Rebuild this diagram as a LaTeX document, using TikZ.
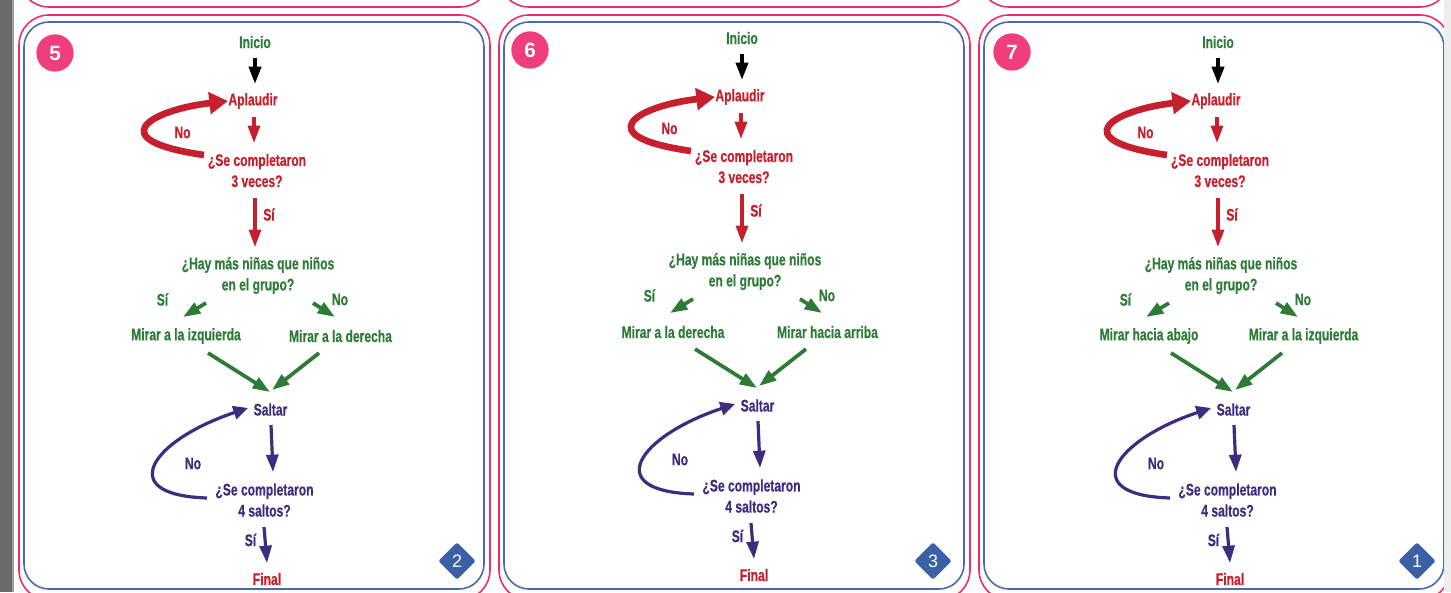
\documentclass[tikz,border=0pt]{standalone}
\usepackage{fontspec}
\setmainfont[FakeStretch=0.72,BoldFeatures={FakeBold=0.5}]{Liberation Sans}
\newfontfamily\badgefont{Liberation Sans}
\usetikzlibrary{arrows.meta,shapes.geometric}

\definecolor{cardpink}{HTML}{E6306E}
\definecolor{cardblue}{HTML}{4A68B4}
\definecolor{badgepink}{HTML}{EE3E7B}
\definecolor{badgeblue}{HTML}{3A60A6}
\definecolor{flowgreen}{HTML}{2E7B37}
\definecolor{flowred}{HTML}{C61F2D}
\definecolor{flowpurple}{HTML}{3E2C7E}
\definecolor{stripdark}{HTML}{6A6A6A}
\definecolor{stripedge}{HTML}{9C9C9C}
\definecolor{stripright}{HTML}{EEEEEE}

\begin{document}
\begin{tikzpicture}[x=0.75pt,y=-0.75pt,
	txt/.style={align=center,inner sep=0pt,font=\fontsize{12.6}{15.8}\selectfont\bfseries},
	flow/.style={line width=2.4pt,-{Triangle[length=13pt,width=9pt]}},
	backarc/.style={line width=2.4pt,-{Triangle[length=11pt,width=10pt]}}]
	\useasboundingbox (0,0) rectangle (1451,592);
	\clip (0,0) rectangle (1451,592);

	\foreach \k in {0,1,2} {
		\draw[cardpink,line width=1.2pt,rounded corners=22.5pt] (19+480*\k,-600) rectangle (490+480*\k,7);
		\draw[cardpink,line width=1.2pt,rounded corners=22.5pt] (19+480*\k,15) rectangle (490+480*\k,600);
		\draw[cardblue,line width=1.2pt,rounded corners=18.75pt] (24+480*\k,22) rectangle (484+480*\k,589);
	}
	\fill[stripdark] (0,0) rectangle (12,592);
	\fill[stripedge] (12,0) rectangle (14,592);
	\fill[stripright] (1444,0) rectangle (1451,592);

	\foreach \dx/\dy/\num/\bad/\bx/\by/\mx/\txtL/\txtR in {
		0/0/5/2/55/53/457/Mirar a la izquierda/Mirar a la derecha,
		487/-4/6/3/530/50/933/Mirar a la derecha/Mirar hacia arriba,
		963/0/7/1/1012/52/1417/Mirar hacia abajo/Mirar a la izquierda} {
		\node[circle,fill=badgepink,minimum size=28pt,inner sep=0pt,text=white,
			font=\fontsize{15.5}{16}\badgefont\bfseries] (n\num) at (\bx,\by) {\num};
		\node[diamond,fill=badgeblue,minimum width=28pt,minimum height=28pt,inner sep=0pt,
			rounded corners=1.5pt,text=white,font=\fontsize{13.5}{14}\badgefont] (m\num) at (\mx,561) {\bad};

		\begin{scope}[shift={(\dx,\dy)}]
			\node[txt,text=flowgreen] (ini\num) at (255,42) {Inicio};
			\node[txt,text=flowred] (apl\num) at (253,101) {Aplaudir};
			\node[txt,text=flowred] (cmp\num) at (257,170.5) {¿Se completaron\\3 veces?};
			\node[txt,text=flowgreen] (hay\num) at (258,275.5) {¿Hay más niñas que niños\\en el grupo?};
			\node[txt,text=flowgreen] (izq\num) at (186,336) {\txtL};
			\node[txt,text=flowgreen] (der\num) at (340.5,336) {\txtR};
			\node[txt,text=flowpurple] (sal\num) at (270.5,409.5) {Saltar};
			\node[txt,text=flowpurple] (cmq\num) at (264.5,500) {¿Se completaron\\4 saltos?};
			\node[txt,text=flowred] (fin\num) at (267,579) {Final};

			\node[txt,text=flowred] (noA\num) at (182.5,132.5) {No};
			\node[txt,text=flowred] (siA\num) at (269,214.5) {Sí};
			\node[txt,text=flowgreen] (siB\num) at (162.5,299.5) {Sí};
			\node[txt,text=flowgreen] (noB\num) at (340,299.5) {No};
			\node[txt,text=flowpurple] (noC\num) at (193,463.5) {No};
			\node[txt,text=flowpurple] (siC\num) at (250.5,540) {Sí};

			\draw[flow,black,line width=2.8pt,-{Triangle[length=13pt,width=9pt]}] ([shift={(0,16)}]ini\num.center) -- ([shift={(2,-17)}]apl\num.center);
			\draw[flowred,line width=5pt,-{Triangle[length=14pt,width=16pt]}] ([shift={(-53,-15.5)}]cmp\num.center)
				.. controls +(-104,-15) and +(-78,9) .. ([shift={(-25,0)}]apl\num.center);
			\draw[flow,flowred] ([shift={(1,16)}]apl\num.center) -- ([shift={(-3,-27.5)}]cmp\num.center);
			\draw[flow,flowred] ([shift={(-2,27.5)}]cmp\num.center) -- ([shift={(-3,-28.5)}]hay\num.center);
			\draw[flow,flowgreen,line width=2.8pt] ([shift={(-52,27.5)}]hay\num.center) -- ([shift={(-3,-19)}]izq\num.center);
			\draw[flow,flowgreen,line width=2.8pt] ([shift={(55,27.5)}]hay\num.center) -- ([shift={(-5.5,-19)}]der\num.center);
			\draw[flow,flowgreen,line width=2.8pt] ([shift={(22,17)}]izq\num.center) -- ([shift={(-0.5,-17.5)}]sal\num.center);
			\draw[flow,flowgreen,line width=2.8pt] ([shift={(-21.5,17)}]der\num.center) -- ([shift={(1.5,-19.5)}]sal\num.center);
			\draw[flow,flowpurple] ([shift={(0.5,15.5)}]sal\num.center) -- ([shift={(8.5,-28)}]cmq\num.center);
			\draw[backarc,flowpurple] ([shift={(-57.5,-2)}]cmq\num.center)
				.. controls +(-94,-3) and +(-96,32) .. ([shift={(-22.5,-1.5)}]sal\num.center);
			\draw[flow,flowpurple] ([shift={(-0.5,27)}]cmq\num.center) -- ([shift={(0,-16)}]fin\num.center);
		\end{scope}
	}
\end{tikzpicture}
\end{document}
